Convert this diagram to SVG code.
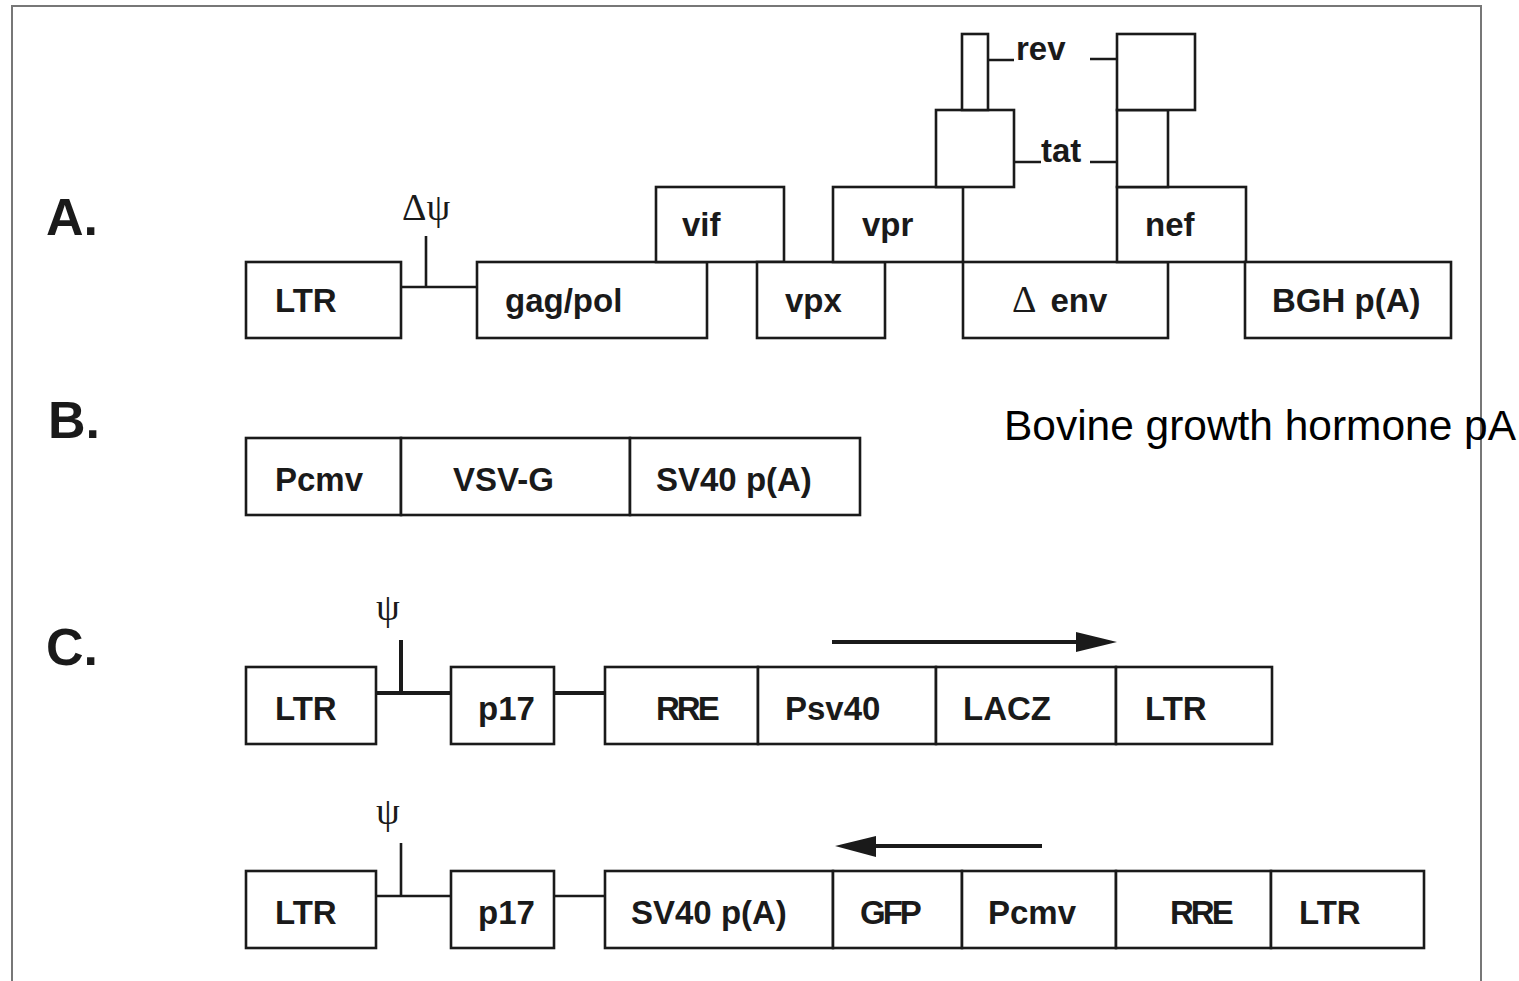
<svg xmlns="http://www.w3.org/2000/svg" width="1519" height="981" viewBox="0 0 1519 981">
<style>
.box{fill:#fff;stroke:#1a1a1a;stroke-width:2.6}
.ln{fill:none;stroke:#1a1a1a;stroke-width:2.6}
.thick{fill:none;stroke:#1a1a1a;stroke-width:4}
.lbl{font-family:"Liberation Sans",Arial,sans-serif;font-weight:bold;font-size:33px;fill:#1a1a1a}
.sec{font-family:"Liberation Sans",Arial,sans-serif;font-weight:bold;font-size:52px;fill:#1a1a1a}
.sym{font-family:"Liberation Serif","DejaVu Serif",serif;font-size:38px;fill:#1a1a1a}
.frame{fill:none;stroke:#777;stroke-width:2}
.note{font-family:"Liberation Sans",Arial,sans-serif;font-size:42px;fill:#000}
</style>
<rect width="1519" height="981" fill="#fff"/>
<path class="frame" d="M12,981 V6 H1481 V981"/>
<g id="section-labels">
<text class="sec" x="46" y="235">A.</text>
<text class="sec" x="48" y="438">B.</text>
<text class="sec" x="46" y="665">C.</text>
</g>
<g id="connectors">
<path class="ln" d="M401,287 H477 M426,236 V287"/>
<path class="ln" d="M988,60 H1014 M1090,59 H1117 M1014,162 H1041 M1090,162 H1117"/>
<path class="thick" d="M376,693 H451 M401,640 V693 M554,693 H605"/>
<path class="ln" d="M376,896 H451 M401,843 V896 M554,896 H605"/>
<path class="thick" d="M832,642 H1080"/>
<polygon points="1076,632 1117,642 1076,652" fill="#1a1a1a"/>
<path class="thick" d="M872,846 H1042"/>
<polygon points="835,846 876,836 876,857" fill="#1a1a1a"/>
</g>
<g id="row-a">
<g id="a-ltr"><rect class="box" x="246" y="262" width="155" height="76"/><text class="lbl" x="275" y="312">LTR</text></g>
<g id="a-dpsi"><text class="sym" x="402" y="220">Δψ</text></g>
<g id="a-gagpol"><rect class="box" x="477" y="262" width="230" height="76"/><text class="lbl" x="505" y="312">gag/pol</text></g>
<g id="a-vif"><rect class="box" x="656" y="187" width="128" height="75"/><text class="lbl" x="682" y="236">vif</text></g>
<g id="a-vpx"><rect class="box" x="757" y="262" width="128" height="76"/><text class="lbl" x="785" y="312">vpx</text></g>
<g id="a-vpr"><rect class="box" x="833" y="187" width="130" height="75"/><text class="lbl" x="862" y="236">vpr</text></g>
<g id="a-env"><rect class="box" x="963" y="262" width="205" height="76"/><text x="1012" y="312"><tspan class="sym" font-size="40">Δ</tspan><tspan class="lbl" dx="14">env</tspan></text></g>
<g id="a-nef"><rect class="box" x="1117" y="187" width="129" height="75"/><text class="lbl" x="1145" y="236">nef</text></g>
<g id="a-bgh"><rect class="box" x="1245" y="262" width="206" height="76"/><text class="lbl" x="1272" y="312">BGH p(A)</text></g>
<g id="a-tat"><rect class="box" x="936" y="110" width="78" height="77"/><text class="lbl" x="1041" y="162">tat</text></g>
<g id="a-rev"><rect class="box" x="962" y="34" width="26" height="76"/><text class="lbl" x="1016" y="60">rev</text></g>
<g id="a-nef-stem"><rect class="box" x="1117" y="110" width="51" height="77"/></g>
<g id="a-rev2"><rect class="box" x="1117" y="34" width="78" height="76"/></g>
</g>
<g id="note"><text class="note" x="1004" y="440" textLength="512" lengthAdjust="spacingAndGlyphs">Bovine growth hormone pA</text></g>
<g id="row-b">
<g id="b-pcmv"><rect class="box" x="246" y="438" width="155" height="77"/><text class="lbl" x="275" y="491">Pcmv</text></g>
<g id="b-vsvg"><rect class="box" x="401" y="438" width="229" height="77"/><text class="lbl" x="453" y="491">VSV-G</text></g>
<g id="b-sv40"><rect class="box" x="630" y="438" width="230" height="77"/><text class="lbl" x="656" y="491">SV40 p(A)</text></g>
</g>
<g id="row-c1">
<g id="c1-ltr"><rect class="box" x="246" y="667" width="130" height="77"/><text class="lbl" x="275" y="720">LTR</text></g>
<g id="c1-psi"><text class="sym" x="376" y="620">ψ</text></g>
<g id="c1-p17"><rect class="box" x="451" y="667" width="103" height="77"/><text class="lbl" x="478" y="720">p17</text></g>
<g id="c1-rre"><rect class="box" x="605" y="667" width="153" height="77"/><text class="lbl" x="656" y="720" letter-spacing="-3">RRE</text></g>
<g id="c1-psv40"><rect class="box" x="758" y="667" width="178" height="77"/><text class="lbl" x="785" y="720">Psv40</text></g>
<g id="c1-lacz"><rect class="box" x="936" y="667" width="180" height="77"/><text class="lbl" x="963" y="720">LACZ</text></g>
<g id="c1-ltr2"><rect class="box" x="1116" y="667" width="156" height="77"/><text class="lbl" x="1145" y="720">LTR</text></g>
</g>
<g id="row-c2">
<g id="c2-ltr"><rect class="box" x="246" y="871" width="130" height="77"/><text class="lbl" x="275" y="924">LTR</text></g>
<g id="c2-psi"><text class="sym" x="376" y="824">ψ</text></g>
<g id="c2-p17"><rect class="box" x="451" y="871" width="103" height="77"/><text class="lbl" x="478" y="924">p17</text></g>
<g id="c2-sv40"><rect class="box" x="605" y="871" width="228" height="77"/><text class="lbl" x="631" y="924">SV40 p(A)</text></g>
<g id="c2-gfp"><rect class="box" x="833" y="871" width="129" height="77"/><text class="lbl" x="860" y="924" letter-spacing="-3">GFP</text></g>
<g id="c2-pcmv"><rect class="box" x="962" y="871" width="154" height="77"/><text class="lbl" x="988" y="924">Pcmv</text></g>
<g id="c2-rre"><rect class="box" x="1116" y="871" width="155" height="77"/><text class="lbl" x="1170" y="924" letter-spacing="-3">RRE</text></g>
<g id="c2-ltr2"><rect class="box" x="1271" y="871" width="153" height="77"/><text class="lbl" x="1299" y="924">LTR</text></g>
</g>
</svg>
